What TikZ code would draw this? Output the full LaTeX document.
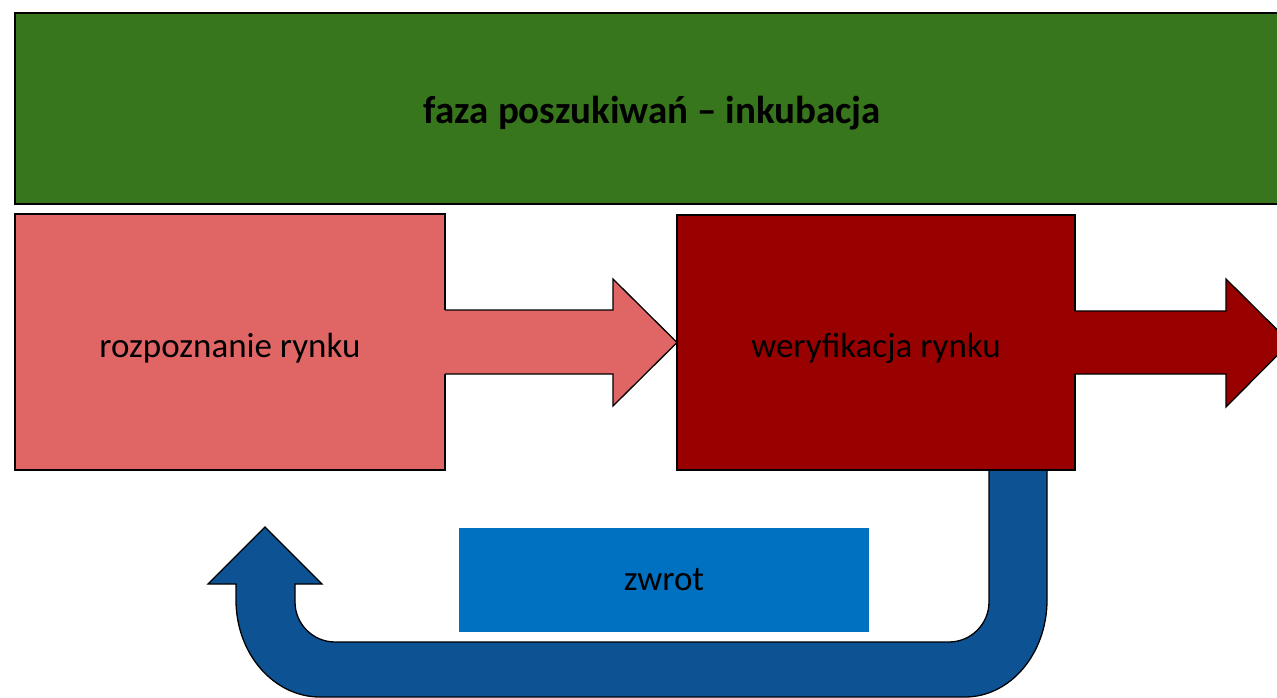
\documentclass[tikz,border=0pt]{standalone}
\usepackage{fontspec}
\setmainfont{Carlito}
\usetikzlibrary{calc}
\definecolor{bandgreen}{RGB}{56,118,29}
\definecolor{pinkbox}{RGB}{224,102,102}
\definecolor{darkred}{RGB}{153,0,0}
\definecolor{zwrotblue}{RGB}{0,112,192}
\definecolor{ublue}{RGB}{13,83,148}
\newcommand{\lowertext}[2]{\raisebox{-#1}[\height][\depth]{#2}}
\tikzset{
  box/.style={draw=black, line width=1.3pt, inner sep=0pt, outer sep=0pt, font=\fontsize{35}{42}\selectfont},
  arrowfill/.style={line width=1.3pt, draw=black, line join=miter},
}
\begin{document}
\begin{tikzpicture}[x=1pt,y=-1pt]
\useasboundingbox (0,0) rectangle (1277,698);
\clip (0,0) rectangle (1277,698);
\fill[white] (0,0) rectangle (1277,698);

% green band
\node[box, fill=bandgreen, minimum width=1275pt, minimum height=191pt, font=\fontsize{39}{46}\selectfont\bfseries] (band) at (652.5,108.5) {\lowertext{5pt}{faza poszukiwań – inkubacja}};

% U-turn return arrow (behind the red box)
\filldraw[arrowfill, fill=ublue]
  (236,600) .. controls (236,654) and (274,697) .. (320,697)
  -- (965,697)
  .. controls (1010,697) and (1047,654) .. (1047,600)
  -- (1047,462) -- (989,462) -- (989,602)
  .. controls (989,624) and (971,642) .. (949,642)
  -- (335,642)
  .. controls (313,642) and (295,624) .. (295,602)
  -- (295,584) -- (322,584) -- (265,527) -- (208,584) -- (236,584) -- cycle;

% boxes
\node[box, fill=pinkbox, minimum width=430pt, minimum height=256pt] (rozp) at (230,342) {\lowertext{6pt}{rozpoznanie rynku}};
\node[box, fill=darkred, minimum width=398pt, minimum height=255pt] (wer) at (876,342.5) {\lowertext{6pt}{weryfikacja rynku}};

% pink arrow rozp -> wer
\fill[pinkbox] ($(rozp.east)+(-3,-32)$) -- (613,310) -- (613,279) -- (wer.west) -- (613,406) -- (613,374) -- ($(rozp.east)+(-3,32)$) -- cycle;
\draw[arrowfill] ($(rozp.east)+(0,-32)$) -- (613,310) -- (613,279) -- (wer.west) -- (613,406) -- (613,374) -- ($(rozp.east)+(0,32)$);

% dark red arrow out of wer
\coordinate (outtip) at (1290,342.5);
\fill[darkred] ($(wer.east)+(-3,-31.5)$) -- (1226,311) -- (1226,279) -- (outtip) -- (1226,407) -- (1226,374) -- ($(wer.east)+(-3,31.5)$) -- cycle;
\draw[arrowfill] ($(wer.east)+(0,-31.5)$) -- (1226,311) -- (1226,279) -- (outtip) -- (1226,407) -- (1226,374) -- ($(wer.east)+(0,31.5)$);

% zwrot label box
\node[fill=zwrotblue, minimum width=410pt, minimum height=104pt, inner sep=0pt, font=\fontsize{35}{42}\selectfont] (zwrot) at (664,580) {zwrot};
\end{tikzpicture}
\end{document}
